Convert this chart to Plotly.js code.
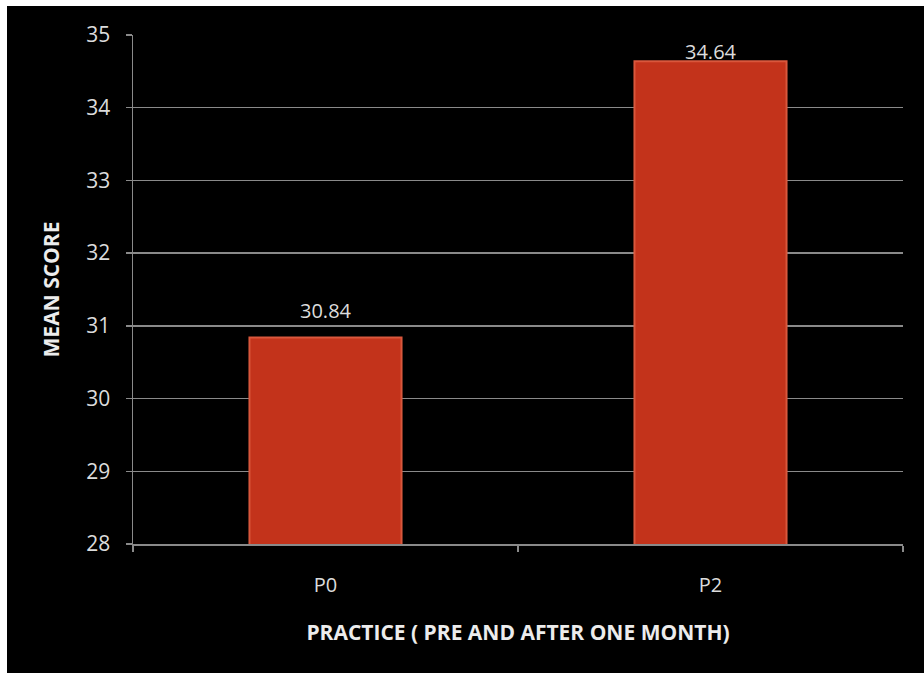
<!DOCTYPE html>
<html>
<head>
<meta charset="utf-8">
<script src="https://cdn.plot.ly/plotly-3.0.1.min.js"></script>
<style>
  html, body { margin: 0; padding: 0; background: #ffffff; }
  #chart { position: absolute; left: 7px; top: 6px; width: 917px; height: 667px; }
</style>
</head>
<body>
<div id="chart"></div>
<script>
// Mean practice score before (P0) and one month after (P2)
const categories = ['P0', 'P2'];
const meanScores = [30.84, 34.64];
const valueLabels = ['30.84', '34.64'];
const yTicks = [28, 29, 30, 31, 32, 33, 34, 35];

const textColor = '#dcdcdc';
const gridColor = '#8a8a8a';
const baseFont = 'Open Sans, sans-serif';

const bars = {
  type: 'bar',
  x: categories,
  y: meanScores,
  marker: {
    color: '#c3331b',
    line: { color: '#d9573c', width: 2 }
  },
  hoverinfo: 'x+y'
};

// value labels sit just above each bar, the taller one is held inside the plot area
const labelShift = [24, 7];
const annotations = categories.map((c, i) => ({
  x: c,
  y: meanScores[i],
  xref: 'x',
  yref: 'y',
  text: valueLabels[i],
  showarrow: false,
  yanchor: 'bottom',
  yshift: labelShift[i] - 13,
  font: { family: baseFont, size: 20, color: textColor }
}));

const layout = {
  width: 917,
  height: 667,
  paper_bgcolor: '#000000',
  plot_bgcolor: '#000000',
  margin: { l: 126, r: 21, t: 29, b: 129 },
  bargap: 0.605,
  showlegend: false,
  font: { family: baseFont, color: textColor },
  xaxis: {
    type: 'category',
    tickson: 'boundaries',
    ticks: 'outside',
    ticklen: 6,
    tickcolor: gridColor,
    tickwidth: 1.5,
    showline: true,
    linecolor: gridColor,
    linewidth: 1.5,
    showgrid: false,
    tickfont: { family: baseFont, size: 20, color: textColor },
    ticklabelstandoff: 22,
    title: {
      text: 'PRACTICE ( PRE AND AFTER ONE MONTH)',
      font: { family: baseFont, size: 21, color: '#ececec', weight: 'bold' },
      standoff: 29
    }
  },
  yaxis: {
    range: [28, 35],
    tickvals: yTicks,
    ticks: 'outside',
    ticklen: 6,
    tickcolor: gridColor,
    tickwidth: 1.5,
    showline: true,
    linecolor: gridColor,
    linewidth: 1.5,
    showgrid: true,
    gridcolor: gridColor,
    gridwidth: 1.5,
    zeroline: false,
    tickfont: { family: baseFont, size: 21, color: textColor },
    ticklabelstandoff: 11,
    title: {
      text: 'MEAN SCORE',
      font: { family: baseFont, size: 21, color: '#ececec', weight: 'bold' },
      standoff: 21
    }
  },
  annotations: annotations
};

Plotly.newPlot('chart', [bars], layout, { displayModeBar: false, staticPlot: true });
</script>
</body>
</html>
